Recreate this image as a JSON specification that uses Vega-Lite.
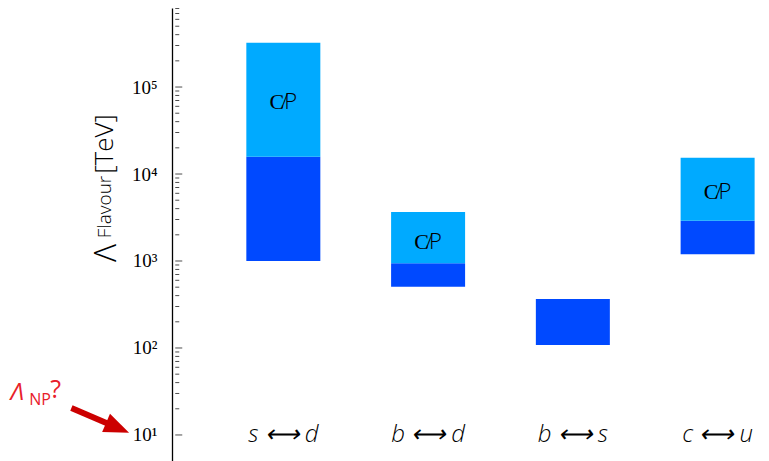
{
  "$schema": "https://vega.github.io/schema/vega-lite/v6.json",
  "width": 769,
  "height": 453,
  "autosize": {"type": "none"},
  "padding": {"top": 8, "left": 0, "right": 0, "bottom": 0},
  "config": {"view": {"stroke": null}},
  "datasets": {
    "bars": [
      {"pair": "s-d", "idx": 1, "part": "dark", "low": 1000, "high": 15800},
      {"pair": "s-d", "idx": 1, "part": "light", "low": 15800, "high": 323000},
      {"pair": "b-d", "idx": 2, "part": "dark", "low": 507, "high": 942},
      {"pair": "b-d", "idx": 2, "part": "light", "low": 942, "high": 3656},
      {"pair": "b-s", "idx": 3, "part": "dark", "low": 108, "high": 366},
      {"pair": "c-u", "idx": 4, "part": "dark", "low": 1194, "high": 2905},
      {"pair": "c-u", "idx": 4, "part": "light", "low": 2905, "high": 15380}
    ],
    "cp": [
      {"idx": 1, "v": 67300, "label": "C̸P"},
      {"idx": 2, "v": 1667, "label": "C̸P"},
      {"idx": 4, "v": 6270, "label": "C̸P"}
    ],
    "cats": [
      {"idx": 1, "v": 10, "label": "s ⟷ d"},
      {"idx": 2, "v": 10, "label": "b ⟷ d"},
      {"idx": 3, "v": 10, "label": "b ⟷ s"},
      {"idx": 4, "v": 10, "label": "c ⟷ u"}
    ],
    "tLam": [{"x": -0.159, "v": 1236, "label": "Λ"}],
    "tSub": [{"x": -0.19, "v": 4180, "label": "Flavour"}],
    "tBr": [{"x": -0.178, "v": 22130, "label": "[TeV]"}],
    "npLam": [{"x": -0.885, "v": 25.2, "label": "Λ"}],
    "npSub": [{"x": -0.755, "v": 22.1, "label": "NP"}],
    "npQ": [{"x": -0.61, "v": 26.6, "label": "?"}],
    "ticks": [
      {"v": 10, "kind": "major"}, {"v": 100, "kind": "major"}, {"v": 1000, "kind": "major"}, {"v": 10000, "kind": "major"}, {"v": 100000, "kind": "major"},
      {"v": 20, "kind": "minor"}, {"v": 30, "kind": "minor"}, {"v": 40, "kind": "minor"}, {"v": 50, "kind": "minor"}, {"v": 60, "kind": "minor"}, {"v": 70, "kind": "minor"}, {"v": 80, "kind": "minor"}, {"v": 90, "kind": "minor"},
      {"v": 200, "kind": "minor"}, {"v": 300, "kind": "minor"}, {"v": 400, "kind": "minor"}, {"v": 500, "kind": "minor"}, {"v": 600, "kind": "minor"}, {"v": 700, "kind": "minor"}, {"v": 800, "kind": "minor"}, {"v": 900, "kind": "minor"},
      {"v": 2000, "kind": "minor"}, {"v": 3000, "kind": "minor"}, {"v": 4000, "kind": "minor"}, {"v": 5000, "kind": "minor"}, {"v": 6000, "kind": "minor"}, {"v": 7000, "kind": "minor"}, {"v": 8000, "kind": "minor"}, {"v": 9000, "kind": "minor"},
      {"v": 20000, "kind": "minor"}, {"v": 30000, "kind": "minor"}, {"v": 40000, "kind": "minor"}, {"v": 50000, "kind": "minor"}, {"v": 60000, "kind": "minor"}, {"v": 70000, "kind": "minor"}, {"v": 80000, "kind": "minor"}, {"v": 90000, "kind": "minor"},
      {"v": 200000, "kind": "minor"}, {"v": 300000, "kind": "minor"}, {"v": 400000, "kind": "minor"}, {"v": 500000, "kind": "minor"}, {"v": 600000, "kind": "minor"}, {"v": 700000, "kind": "minor"}, {"v": 800000, "kind": "minor"}
    ],
    "arrow": [
      {"x": -0.464, "v": 20.4, "x2": -0.17, "v2": 12.6}
    ],
    "head": [
      {"x": -0.145, "v": 12.1}
    ]
  },
  "layer": [
    {
      "data": {"name": "bars"},
      "mark": {"type": "bar", "orient": "vertical", "width": 74},
      "encoding": {
        "x": {"field": "idx", "type": "quantitative", "scale": {"domain": [-0.9227, 4.3204], "nice": false, "zero": false}, "axis": null},
        "y": {"field": "low", "type": "quantitative",
          "scale": {"type": "log", "domain": [5.02, 810000], "nice": false},
          "axis": {
            "orient": "left", "offset": -172, "title": null, "grid": false, "ticks": false,
            "values": [10, 100, 1000, 10000, 100000],
            "labelExpr": "'10' + ['⁰','¹','²','³','⁴','⁵','⁶'][round(log(datum.value)/LN10)]",
            "labelFont": "Liberation Serif", "labelFontSize": 19, "labelColor": "black",
            "labelPadding": 15, "labelBaseline": "middle", "labelFlush": false, "labelOverlap": false,
            "domainColor": "black", "domainWidth": 1.3
          }
        },
        "y2": {"field": "high"},
        "color": {"field": "part", "type": "nominal", "scale": {"domain": ["dark", "light"], "range": ["#0049FF", "#00AAFF"]}, "legend": null}
      }
    },
    {
      "data": {"name": "ticks"},
      "transform": [{"filter": "datum.kind === 'major'"}],
      "mark": {"type": "tick", "orient": "horizontal", "size": 7, "thickness": 1, "xOffset": 3.5, "color": "black"},
      "encoding": {
        "x": {"datum": 0.2534, "type": "quantitative"},
        "y": {"field": "v", "type": "quantitative"}
      }
    },
    {
      "data": {"name": "ticks"},
      "transform": [{"filter": "datum.kind === 'minor'"}],
      "mark": {"type": "tick", "orient": "horizontal", "size": 4, "thickness": 1, "xOffset": 2, "color": "black"},
      "encoding": {
        "x": {"datum": 0.2534, "type": "quantitative"},
        "y": {"field": "v", "type": "quantitative"}
      }
    },
    {
      "data": {"name": "cp"},
      "mark": {"type": "text", "font": "Open Sans", "fontWeight": 300, "fontSize": 22, "color": "black", "align": "center", "baseline": "middle"},
      "encoding": {
        "x": {"field": "idx", "type": "quantitative"},
        "y": {"field": "v", "type": "quantitative"},
        "text": {"field": "label"}
      }
    },
    {
      "data": {"name": "cats"},
      "mark": {"type": "text", "font": "Open Sans", "fontStyle": "italic", "fontWeight": 300, "fontSize": 24, "color": "black", "align": "center", "baseline": "middle"},
      "encoding": {
        "x": {"field": "idx", "type": "quantitative"},
        "y": {"field": "v", "type": "quantitative"},
        "text": {"field": "label"}
      }
    },
    {
      "data": {"name": "tLam"},
      "mark": {"type": "text", "font": "Open Sans", "fontWeight": 300, "fontSize": 31, "color": "black", "align": "center", "baseline": "alphabetic", "angle": 270},
      "encoding": {
        "x": {"field": "x", "type": "quantitative"},
        "y": {"field": "v", "type": "quantitative"},
        "text": {"field": "label"}
      }
    },
    {
      "data": {"name": "tSub"},
      "mark": {"type": "text", "font": "Open Sans", "fontWeight": 300, "fontSize": 19, "color": "black", "align": "center", "baseline": "alphabetic", "angle": 270},
      "encoding": {
        "x": {"field": "x", "type": "quantitative"},
        "y": {"field": "v", "type": "quantitative"},
        "text": {"field": "label"}
      }
    },
    {
      "data": {"name": "tBr"},
      "mark": {"type": "text", "font": "Open Sans", "fontWeight": 300, "fontSize": 26, "color": "black", "align": "center", "baseline": "alphabetic", "angle": 270},
      "encoding": {
        "x": {"field": "x", "type": "quantitative"},
        "y": {"field": "v", "type": "quantitative"},
        "text": {"field": "label"}
      }
    },
    {
      "data": {"name": "npLam"},
      "mark": {"type": "text", "font": "Open Sans", "fontStyle": "italic", "fontSize": 24, "color": "#E8202A", "align": "left", "baseline": "alphabetic"},
      "encoding": {
        "x": {"field": "x", "type": "quantitative"},
        "y": {"field": "v", "type": "quantitative"},
        "text": {"field": "label"}
      }
    },
    {
      "data": {"name": "npSub"},
      "mark": {"type": "text", "font": "Open Sans", "fontSize": 16, "color": "#E8202A", "align": "left", "baseline": "alphabetic"},
      "encoding": {
        "x": {"field": "x", "type": "quantitative"},
        "y": {"field": "v", "type": "quantitative"},
        "text": {"field": "label"}
      }
    },
    {
      "data": {"name": "npQ"},
      "mark": {"type": "text", "font": "Open Sans", "fontSize": 25, "color": "#E8202A", "align": "left", "baseline": "alphabetic"},
      "encoding": {
        "x": {"field": "x", "type": "quantitative"},
        "y": {"field": "v", "type": "quantitative"},
        "text": {"field": "label"}
      }
    },
    {
      "data": {"name": "arrow"},
      "mark": {"type": "rule", "color": "#CC0000", "strokeWidth": 6},
      "encoding": {
        "x": {"field": "x", "type": "quantitative"},
        "y": {"field": "v", "type": "quantitative"},
        "x2": {"field": "x2"},
        "y2": {"field": "v2"}
      }
    },
    {
      "data": {"name": "head"},
      "mark": {"type": "point", "shape": "M-1,-0.8L1,0L-1,0.8Z", "filled": true, "color": "#CC0000", "opacity": 1, "size": 625, "angle": 23},
      "encoding": {
        "x": {"field": "x", "type": "quantitative"},
        "y": {"field": "v", "type": "quantitative"}
      }
    }
  ]
}
